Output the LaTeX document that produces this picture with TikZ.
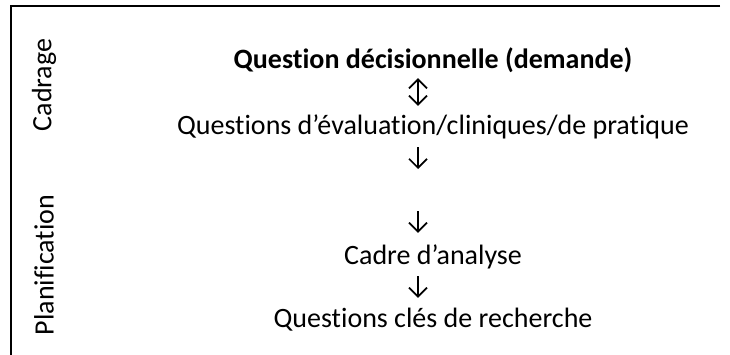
\documentclass[tikz,border=0pt]{standalone}
\usepackage{fontspec}
\setmainfont{Carlito}[Ligatures=NoCommon]
\usetikzlibrary{arrows.meta}
\begin{document}
\begin{tikzpicture}[x=1pt,y=-1pt,
  lbl/.style={font=\fontsize{28}{34}\selectfont, inner sep=0pt, anchor=base, text height=20pt, text depth=7pt},
  side/.style={font=\fontsize{28}{34}\selectfont, inner sep=0pt, rotate=90},
  conn/.style={line width=1.7pt, -{Straight Barb[length=9pt,width=18pt,line width=1.7pt]}},
  conntwo/.style={line width=1.7pt, {Straight Barb[length=9pt,width=18pt,line width=1.7pt]}-{Straight Barb[length=9pt,width=18pt,line width=1.7pt]}},
  frame/.style={line width=2.5pt}]
\useasboundingbox (0,0) rectangle (730,354);
\coordinate (tr) at (720,6);
\coordinate (tl) at (11,6);
\coordinate (bl) at (11,356);
\draw[frame] (tr) -- (tl) -- (bl);
\coordinate (ax) at (418,0);
\node[side] (cad) at (44,85) {Cadrage};
\node[side] (pla) at (44,265) {Planification};
\node[lbl, font=\fontsize{28}{34}\selectfont\bfseries] (q1) at (433,68) {Question décisionnelle (demande)};
\node[lbl] (q2) at (433,134) {Questions d’évaluation/cliniques/de pratique};
\node[lbl] (q3) at (433,264) {Cadre d’analyse};
\node[lbl] (q4) at (433,327) {Questions clés de recherche};
\coordinate (c1) at (418,169);
\coordinate (c2) at (418,211);
\draw[conntwo, shorten <=3pt, shorten >=8pt] (q1.south -| ax) -- (q2.north -| ax);
\draw[conn, shorten <=6pt] (q2.south -| ax) -- (c1);
\draw[conn, shorten >=11pt] (c2) -- (q3.north -| ax);
\draw[conn, shorten <=5pt, shorten >=9pt] (q3.south -| ax) -- (q4.north -| ax);
\end{tikzpicture}
\end{document}
